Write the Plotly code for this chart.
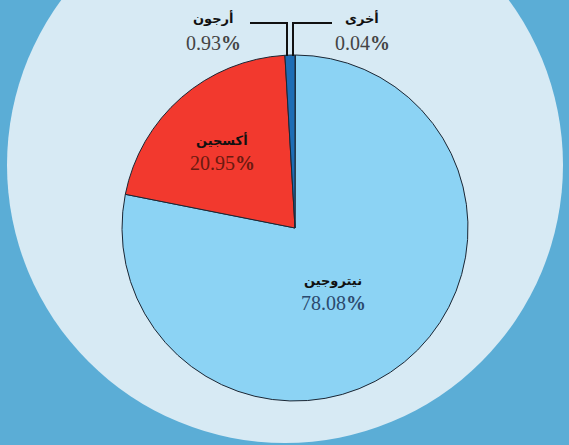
import plotly.graph_objects as go

# Data (clockwise from 12 o'clock)
labels = ["أخرى", "نيتروجين", "أكسجين", "أرجون"]
values = [0.04, 78.08, 20.95, 0.93]
colors = ["#1E8A4A", "#8CD3F4", "#F2392E", "#1D6DB5"]
value_text_colors = ["#444444", "#2b4a6e", "#6a1a10", "#444444"]

W, H = 569, 445

fig = go.Figure()
fig.add_trace(go.Pie(
    labels=labels, values=values, sort=False, direction="clockwise", rotation=0,
    marker=dict(colors=colors, line=dict(color="#1b2633", width=1)),
    textinfo="none", hoverinfo="label+percent", showlegend=False,
    domain=dict(x=[122 / W, 468 / W], y=[1 - 401 / H, 1 - 55 / H]),
))

def px(x):
    return x / W

def py(y):
    return 1 - y / H

# label positions (pixel) for each category
label_pos = {
    "أخرى": (362, 18, 362, 43),
    "نيتروجين": (333, 280, 333, 303),
    "أكسجين": (222, 140, 222, 163),
    "أرجون": (213, 18, 213, 43),
}

annotations = []
for lab, val, tc in zip(labels, values, value_text_colors):
    lx, ly, vx, vy = label_pos[lab]
    annotations.append(dict(
        x=px(lx), y=py(ly), xref="paper", yref="paper", showarrow=False,
        text="<b>%s</b>" % lab, font=dict(family="DejaVu Sans", size=13, color="#111111"),
        xanchor="center", yanchor="middle"))
    annotations.append(dict(
        x=px(vx), y=py(vy), xref="paper", yref="paper", showarrow=False,
        text="%.2f<b>%%</b>" % val,
        font=dict(family="Liberation Serif", size=20, color=tc),
        xanchor="center", yanchor="middle"))

shapes = [
    # big pale circle behind the pie
    dict(type="circle", xref="paper", yref="paper", layer="below",
         x0=px(7), x1=px(563), y0=py(443), y1=py(-113),
         fillcolor="#D7EAF4", line=dict(width=0)),
    # leader lines
    dict(type="path", xref="paper", yref="paper",
         path="M %f %f L %f %f L %f %f" % (px(250), py(23), px(287), py(23), px(287), py(56)),
         line=dict(color="#111111", width=2)),
    dict(type="path", xref="paper", yref="paper",
         path="M %f %f L %f %f L %f %f" % (px(332), py(23), px(293), py(23), px(293), py(56)),
         line=dict(color="#111111", width=2)),
]

fig.update_layout(
    width=W, height=H, margin=dict(l=0, r=0, t=0, b=0),
    paper_bgcolor="#5BADD6", plot_bgcolor="#5BADD6",
    shapes=shapes, annotations=annotations,
)

fig.write_html("out.html", config={"displayModeBar": False},
               post_script="document.body.style.margin='0';document.body.style.overflow='hidden';")
